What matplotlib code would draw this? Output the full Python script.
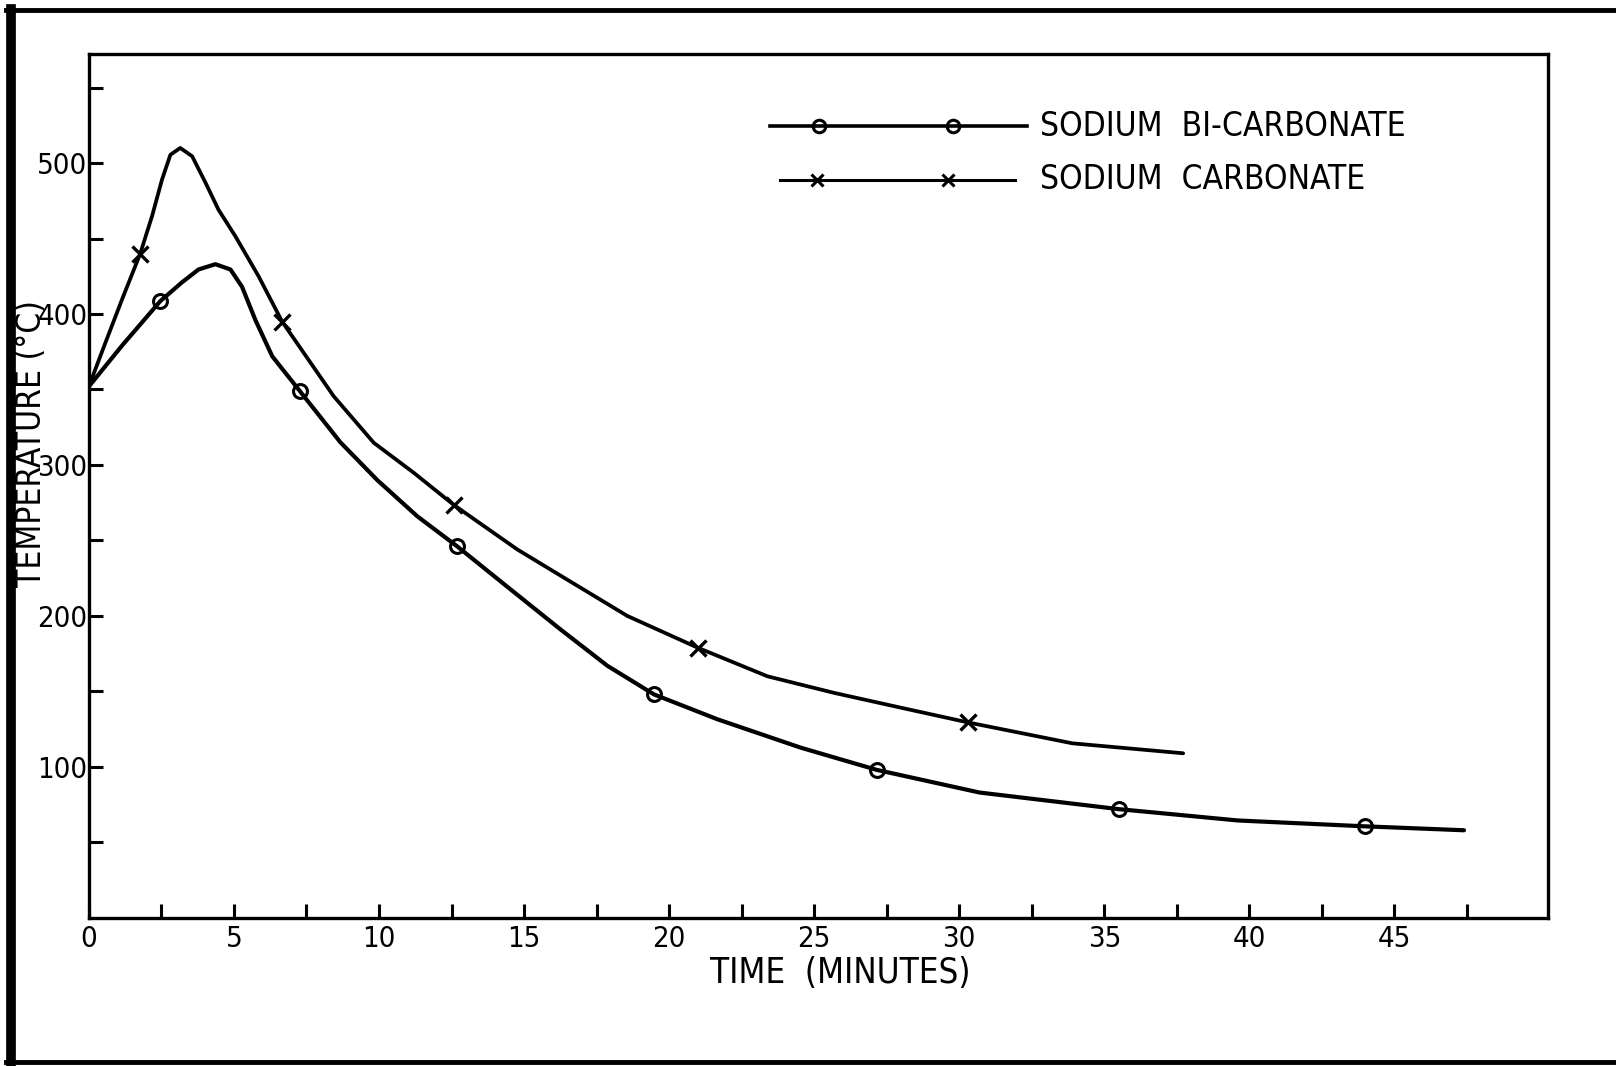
import matplotlib.pyplot as plt
from matplotlib.lines import Line2D


FIGURE_SIZE = (16.16, 10.66)
FIGURE_DPI = 100

FONT = ["DejaVu Sans"]

# time (minutes) / temperature (deg C)
BICARB_CURVE_T = [0.0, 1.14, 2.46, 3.21, 3.78, 4.36, 4.88, 5.28, 5.74, 6.32,
                  7.27, 8.67, 9.94, 11.32, 12.7, 14.54, 16.26, 17.87, 19.48,
                  21.67, 24.54, 27.16, 30.7, 35.5, 39.6, 44.0, 47.4]
BICARB_CURVE_Y = [352, 379, 408.5, 421, 429.5, 433, 429.5, 418, 396, 372,
                  349, 315, 290, 266, 246, 217.5, 191, 167, 148,
                  131.5, 112.7, 98, 83, 72, 64.5, 60.6, 58]
BICARB_MARK_T = [2.46, 7.27, 12.7, 19.48, 27.16, 35.5, 44.0]
BICARB_MARK_Y = [408.5, 349, 246, 148, 98, 72, 60.6]

CARB_CURVE_T = [0.0, 0.57, 1.14, 1.77, 2.18, 2.52, 2.81, 3.15, 3.56, 4.02,
                4.47, 5.05, 5.85, 6.66, 8.44, 9.82, 11.2, 12.58, 14.77,
                16.49, 18.56, 20.98, 23.39, 25.69, 27.99, 30.29, 33.9, 37.72]
CARB_CURVE_Y = [352, 381, 409.5, 440, 465, 489, 505.5, 510, 504.5, 487,
                469, 451.5, 425, 395, 345.5, 314.7, 294.8, 273.5, 244,
                224, 200, 179, 160, 149, 139.2, 129.5, 115.6, 109]
CARB_MARK_T = [1.77, 6.66, 12.58, 20.98, 30.29]
CARB_MARK_Y = [440, 395, 273.5, 179, 129.5]

XTICKS_MAJOR = [0, 5, 10, 15, 20, 25, 30, 35, 40, 45]
XTICKS_MINOR = [2.5, 7.5, 12.5, 17.5, 22.5, 27.5, 32.5, 37.5, 42.5, 47.5]
YTICKS_MAJOR = [100, 200, 300, 400, 500]
YTICKS_MINOR = [50, 150, 250, 350, 450, 550]

LABELS = ["SODIUM  BI-CARBONATE", "SODIUM  CARBONATE"]

LINE_WIDTH = 3.0
SPINE_WIDTH = 2.4


def main():
    plt.rcParams["font.family"] = FONT
    plt.rcParams["font.stretch"] = "condensed"
    fig = plt.figure(figsize=FIGURE_SIZE, dpi=FIGURE_DPI)
    ax = fig.add_axes([0.055, 0.139, 0.903, 0.81])

    # curves
    ax.plot(BICARB_CURVE_T, BICARB_CURVE_Y, color="black", lw=LINE_WIDTH,
            solid_capstyle="round", solid_joinstyle="round")
    ax.plot(BICARB_MARK_T, BICARB_MARK_Y, ls="none", marker="o", ms=10,
            mfc="none", mec="black", mew=2.2)
    ax.plot(CARB_CURVE_T, CARB_CURVE_Y, color="black", lw=LINE_WIDTH - 0.3,
            solid_capstyle="round", solid_joinstyle="round")
    ax.plot(CARB_MARK_T, CARB_MARK_Y, ls="none", marker="x", ms=11,
            mec="black", mew=2.4)

    # hand-drawn style legend
    tr = ax.transAxes
    ax.plot([0.467, 0.643], [0.9165, 0.9165], color="black", lw=2.6, transform=tr)
    ax.plot([0.500, 0.592], [0.9165, 0.9165], ls="none", marker="o", ms=9,
            mfc="none", mec="black", mew=2.2, transform=tr)
    ax.plot([0.4735, 0.6345], [0.8545, 0.8545], color="black", lw=2.2, transform=tr)
    ax.plot([0.499, 0.589], [0.8545, 0.8545], ls="none", marker="x", ms=9,
            mec="black", mew=2.2, transform=tr)
    ax.text(0.652, 0.9165, LABELS[0], transform=tr, ha="left", va="center",
            fontsize=24)
    ax.text(0.652, 0.8545, LABELS[1], transform=tr, ha="left", va="center",
            fontsize=24)

    ax.set_xlim(0, 50.3)
    ax.set_ylim(0, 572)

    ax.set_xticks(XTICKS_MAJOR)
    ax.set_xticks(XTICKS_MINOR, minor=True)
    ax.set_yticks(YTICKS_MAJOR)
    ax.set_yticks(YTICKS_MINOR, minor=True)
    ax.set_xticklabels([str(v) for v in XTICKS_MAJOR])
    ax.set_yticklabels([str(v) for v in YTICKS_MAJOR])

    ax.tick_params(which="both", direction="in", length=10, width=2.2,
                   labelsize=21, top=False, right=False)
    ax.tick_params(axis="x", pad=5)
    ax.tick_params(axis="y", pad=1)

    for spine in ax.spines.values():
        spine.set_linewidth(SPINE_WIDTH)

    ax.text(-0.0395, 0.549, "TEMPERATURE (°C)", transform=tr, rotation=90,
            ha="center", va="center", fontsize=24)
    fig.text(0.52, 0.087, "TIME  (MINUTES)", ha="center", va="center",
             fontsize=25)

    # border of the scanned sheet
    fig.add_artist(Line2D([0.0068, 0.0068], [0.0, 0.992], color="black", lw=7,
                          transform=fig.transFigure))
    fig.add_artist(Line2D([0.004, 1.0], [0.991, 0.991], color="black", lw=3.5,
                          transform=fig.transFigure))
    fig.add_artist(Line2D([0.004, 1.0], [0.004, 0.004], color="black", lw=3.5,
                          transform=fig.transFigure))

    fig.savefig("out.png", dpi=FIGURE_DPI, facecolor="white")


if __name__ == "__main__":
    main()
